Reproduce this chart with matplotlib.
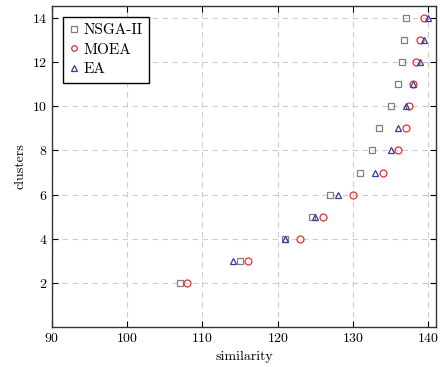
import matplotlib
matplotlib.use('Agg')
import matplotlib.pyplot as plt

# data
nsga_x = [107, 115, 121, 124.5, 127, 131, 132.5, 133.5, 135, 136, 136.5, 136.8, 137]
nsga_y = [2, 3, 4, 5, 6, 7, 8, 9, 10, 11, 12, 13, 14]
moea_x = [108, 116, 123, 126, 130, 134, 136, 137, 137.5, 138, 138.4, 138.9, 139.5]
moea_y = [2, 3, 4, 5, 6, 7, 8, 9, 10, 11, 12, 13, 14]
ea_x = [114, 121, 125, 128, 133, 135, 136, 137, 138, 138.9, 139.5, 140]
ea_y = [3, 4, 5, 6, 7, 8, 9, 10, 11, 12, 13, 14]

plt.rcParams['font.family'] = 'cmr10'
plt.rcParams['mathtext.fontset'] = 'cm'
plt.rcParams['axes.formatter.use_mathtext'] = True

fig = plt.figure(figsize=(4.46, 3.67), dpi=100)
ax = fig.add_axes([0.1166, 0.109, 0.861, 0.875])

ax.plot(nsga_x, nsga_y, 's', mfc='none', mec='#808080', ms=5, mew=0.9, label='NSGA-II')
ax.plot(moea_x, moea_y, 'o', mfc='none', mec='#e8302a', ms=5, mew=0.9, label='MOEA')
ax.plot(ea_x, ea_y, '^', mfc='none', mec='#2f3f9f', ms=5, mew=0.9, label='EA')

ax.set_xlim(90, 141.05)
ax.set_ylim(0, 14.55)
ax.set_xticks([90, 100, 110, 120, 130, 140])
ax.set_yticks([2, 4, 6, 8, 10, 12, 14])
ax.tick_params(direction='in', top=True, right=True, labelsize=10, length=4)
ax.grid(color='#cccccc', linestyle=(0, (5, 4)), linewidth=0.8)
for s in ax.spines.values():
    s.set_linewidth(1.0)
    s.set_color('#333333')

ax.set_xlabel('similarity', fontsize=10)
ax.set_ylabel('clusters', fontsize=10)

leg = ax.legend(loc='upper left', fontsize=11, frameon=True, fancybox=False,
                edgecolor='black', framealpha=1, handlelength=0.6,
                handletextpad=0.3, borderpad=0.45, labelspacing=0.38,
                borderaxespad=0.7, markerscale=0.8)
leg.get_frame().set_linewidth(1.0)

fig.savefig('out.png', dpi=100)
